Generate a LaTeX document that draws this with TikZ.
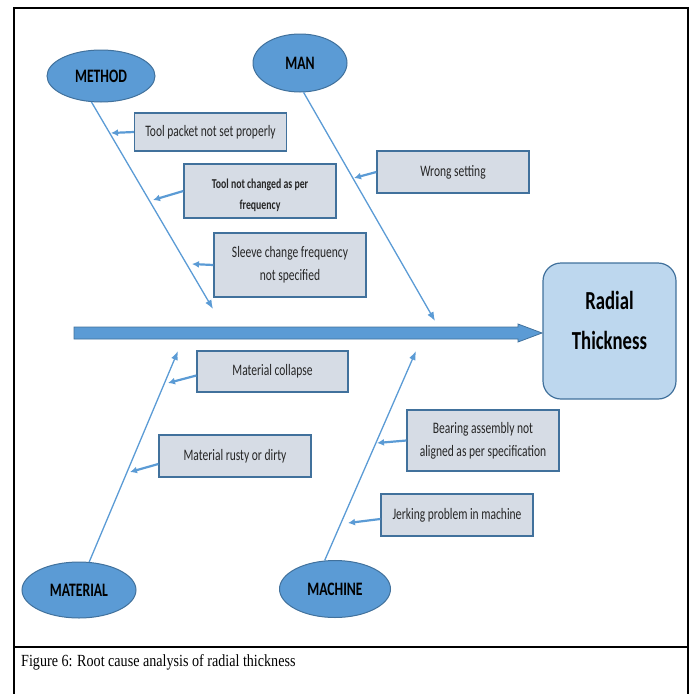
\documentclass[tikz,border=0pt]{standalone}
\usepackage{fontspec}
\setmainfont[FakeStretch=0.72]{Carlito}
\newfontfamily\capfont[FakeStretch=0.83]{Liberation Serif}
\usetikzlibrary{shapes.geometric,arrows.meta,calc}
\definecolor{fishblue}{HTML}{5B9BD5}
\definecolor{fishedge}{HTML}{41719C}
\definecolor{causefill}{HTML}{D6DCE5}
\definecolor{headfill}{HTML}{BDD7EE}
\definecolor{txt}{HTML}{262626}
\tikzset{
  catnode/.style={ellipse, draw=fishedge, fill=fishblue, line width=1pt, inner sep=0pt,
    font=\fontsize{19}{21}\selectfont\bfseries, text=black},
  causebox/.style={rectangle, draw=fishedge, fill=causefill, line width=1.3pt, inner sep=2pt,
    minimum width=152, align=center, text=txt, font=\fontsize{16}{23}\selectfont},
  catline/.style={draw=fishblue, line width=1.3pt, -{Latex[length=9pt,width=7pt]}},
  causearrow/.style={draw=fishblue, line width=2.2pt, -{Latex[length=7pt,width=7pt]}},
  frameline/.style={draw=black, line width=1.6pt}
}
\begin{document}
\begin{tikzpicture}[x=1pt,y=-1pt]
\useasboundingbox (0,0) rectangle (689,694);
% frame
\coordinate (ftl) at (14,8);
\coordinate (ftr) at (688,8);
\coordinate (fbl) at (14,694);
\coordinate (fbr) at (688,694);
\coordinate (sepl) at (14,647);
\coordinate (sepr) at (688,647);
\draw[frameline] (fbl) -- (ftl) -- (ftr) -- (fbr);
\draw[frameline, line width=2pt] (sepl) -- (sepr);
\node[anchor=west, inner sep=0pt, font=\capfont\fontsize{17}{19}\selectfont] (caption) at (21,662) {Figure 6: Root cause analysis of radial thickness};

% head
\node[rectangle, rounded corners=18pt, draw=fishedge, fill=headfill, line width=1.2pt,
  minimum width=133, minimum height=136, align=center, text=black, text depth=22pt,
  font=\fontsize{26}{40}\selectfont\bfseries] (radial) at (609.5,331) {Radial\\Thickness};

% spine
\coordinate (sp0) at (74,333);
\coordinate (sptip) at (542,333);
\fill[fishblue, draw=fishedge, line width=0.8pt] ($(sp0)+(0,-6)$) -- ($(sptip)+(-24,-6)$) -- ($(sptip)+(-24,-9)$) -- (sptip) -- ($(sptip)+(-24,9)$) -- ($(sptip)+(-24,6)$) -- ($(sp0)+(0,6)$) -- cycle;

% categories
\node[catnode, minimum width=108, minimum height=52] (method) at (101,76) {METHOD};
\node[catnode, minimum width=94, minimum height=58] (man) at (300,63) {MAN};
\node[catnode, minimum width=114, minimum height=56] (material) at (79,590) {MATERIAL};
\node[catnode, minimum width=111, minimum height=57] (machine) at (335,589) {MACHINE};

\coordinate (methodtip) at (213,309);
\coordinate (mantip) at (435,321);
\coordinate (materialtip) at (178,351);
\coordinate (machinetip) at (416,351);
\draw[catline] (method.250) -- (methodtip);
\draw[catline] (man.277) -- (mantip);
\draw[catline] (material.70) -- (materialtip);
\draw[catline] (machine.110) -- (machinetip);

% causes
\node[causebox, minimum height=38] (c1) at (210.5,132) {Tool packet not set properly};
\node[causebox, minimum height=54, text height=39pt, font=\fontsize{13.6}{21}\selectfont\bfseries] (c2) at (260,191) {Tool not changed as per\\frequency};
\node[causebox, minimum height=64] (c3) at (290,265) {Sleeve change frequency\\not specified};
\node[causebox, minimum height=42] (c4) at (453,172) {Wrong setting};
\node[causebox, minimum height=41, minimum width=151] (c5) at (272.5,371.5) {Material collapse};
\node[causebox, minimum height=42] (c6) at (235,456) {Material rusty or dirty};
\node[causebox, minimum height=61] (c7) at (483,440.5) {Bearing assembly not\\aligned as per specification};
\node[causebox, minimum height=42] (c8) at (457,515) {Jerking problem in machine};

\coordinate (t1) at (111,133);
\coordinate (t2) at (153,200);
\coordinate (t3) at (192,264);
\coordinate (t4) at (354,178);
\coordinate (t5) at (168,383);
\coordinate (t6) at (130,472);
\coordinate (t7) at (377,443);
\coordinate (t8) at (348,523);
\draw[causearrow] (c1.west) -- (t1);
\draw[causearrow] (c2.west) -- (t2);
\draw[causearrow] (c3.west) -- (t3);
\draw[causearrow] (c4.west) -- (t4);
\draw[causearrow] ($(c5.west)+(0,4)$) -- (t5);
\draw[causearrow] ($(c6.west)+(0,8)$) -- (t6);
\draw[causearrow] (c7.west) -- (t7);
\draw[causearrow] ($(c8.west)+(0,4)$) -- (t8);
\end{tikzpicture}
\end{document}
